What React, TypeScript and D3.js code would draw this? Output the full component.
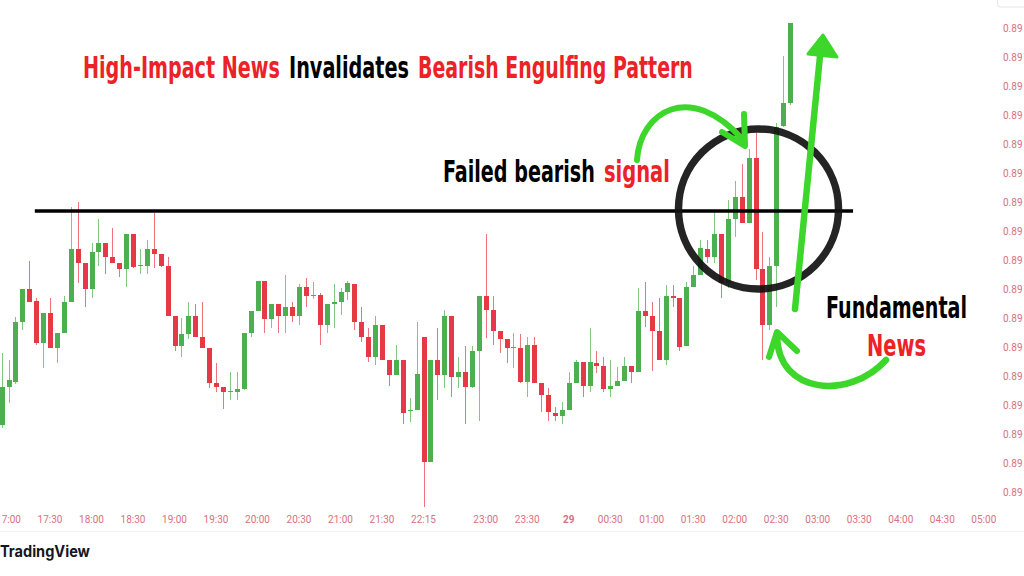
import React, { useLayoutEffect, useRef, useState } from "react";
import * as d3 from "d3";

// 5-minute candles, bar 0 = 16:55 (22:00-22:10 missing: daily rollover gap)
const opens = [
  0.89067,0.89105,0.89110,0.89170,0.89203,0.89191,0.89149,0.89179,0.89144,0.89159,
  0.89190,0.89243,0.89229,0.89203,0.89240,0.89249,0.89235,0.89229,0.89223,0.89258,
  0.89226,0.89226,0.89243,0.89238,0.89226,0.89176,0.89146,0.89158,0.89176,0.89155,
  0.89144,0.89109,0.89105,0.89100,0.89100,0.89103,0.89159,0.89181,0.89211,0.89173,
  0.89188,0.89176,0.89185,0.89176,0.89205,0.89196,0.89197,0.89167,0.89188,0.89190,
  0.89200,0.89208,0.89170,0.89155,0.89135,0.89167,0.89132,0.89117,0.89132,0.89081,
  0.89082,0.89155,0.89030,0.89132,0.89117,0.89176,0.89115,0.89120,0.89105,0.89141,
  0.89196,0.89182,0.89161,0.89153,0.89144,0.89144,0.89110,0.89147,0.89109,0.89097,
  0.89079,0.89076,0.89082,0.89109,0.89130,0.89106,0.89129,0.89126,0.89103,0.89106,
  0.89111,0.89126,0.89120,0.89181,0.89176,0.89161,0.89132,0.89196,0.89194,0.89146,
  0.89205,0.89217,0.89243,0.89235,0.89258,0.89209,0.89273,0.89295,0.89269,0.89334,
  0.89223,0.89167,0.89226,0.89366,0.89389,
];
const highs = [
  0.89139,0.89132,0.89175,0.89203,0.89231,0.89194,0.89179,0.89194,0.89159,0.89196,
  0.89285,0.89290,0.89229,0.89249,0.89273,0.89249,0.89264,0.89229,0.89258,0.89258,
  0.89243,0.89252,0.89279,0.89238,0.89235,0.89176,0.89174,0.89190,0.89188,0.89190,
  0.89144,0.89129,0.89105,0.89120,0.89120,0.89159,0.89181,0.89211,0.89211,0.89188,
  0.89188,0.89217,0.89190,0.89208,0.89214,0.89210,0.89199,0.89188,0.89208,0.89204,
  0.89211,0.89208,0.89185,0.89164,0.89176,0.89167,0.89132,0.89147,0.89132,0.89094,
  0.89170,0.89155,0.89132,0.89164,0.89182,0.89176,0.89135,0.89146,0.89146,0.89196,
  0.89258,0.89196,0.89161,0.89153,0.89159,0.89158,0.89155,0.89155,0.89109,0.89104,
  0.89085,0.89090,0.89120,0.89132,0.89130,0.89164,0.89141,0.89135,0.89132,0.89125,
  0.89135,0.89126,0.89204,0.89210,0.89190,0.89194,0.89207,0.89207,0.89194,0.89210,
  0.89226,0.89252,0.89252,0.89280,0.89258,0.89292,0.89311,0.89328,0.89343,0.89359,
  0.89260,0.89235,0.89369,0.89436,0.89469,
];
const lows = [
  0.89064,0.89089,0.89108,0.89162,0.89190,0.89147,0.89124,0.89144,0.89129,0.89159,
  0.89190,0.89209,0.89185,0.89194,0.89226,0.89218,0.89229,0.89215,0.89205,0.89224,
  0.89218,0.89218,0.89224,0.89225,0.89176,0.89141,0.89135,0.89153,0.89155,0.89144,
  0.89104,0.89100,0.89083,0.89092,0.89092,0.89102,0.89155,0.89181,0.89159,0.89164,
  0.89159,0.89159,0.89170,0.89167,0.89185,0.89193,0.89147,0.89159,0.89164,0.89177,
  0.89192,0.89162,0.89150,0.89130,0.89127,0.89132,0.89106,0.89117,0.89068,0.89070,
  0.89082,0.88985,0.89030,0.89092,0.89104,0.89095,0.89104,0.89068,0.89104,0.89071,
  0.89154,0.89147,0.89139,0.89129,0.89124,0.89109,0.89095,0.89109,0.89080,0.89071,
  0.89071,0.89068,0.89082,0.89109,0.89095,0.89100,0.89119,0.89100,0.89095,0.89106,
  0.89111,0.89109,0.89120,0.89165,0.89121,0.89132,0.89127,0.89185,0.89141,0.89146,
  0.89205,0.89217,0.89229,0.89229,0.89194,0.89204,0.89255,0.89269,0.89269,0.89212,
  0.89132,0.89162,0.89185,0.89365,0.89387,
];
const closes = [
  0.89105,0.89112,0.89170,0.89203,0.89190,0.89149,0.89179,0.89144,0.89159,0.89190,
  0.89243,0.89229,0.89203,0.89240,0.89249,0.89235,0.89229,0.89223,0.89258,0.89225,
  0.89227,0.89243,0.89238,0.89226,0.89176,0.89146,0.89158,0.89176,0.89155,0.89144,
  0.89109,0.89105,0.89100,0.89101,0.89103,0.89159,0.89181,0.89211,0.89173,0.89188,
  0.89176,0.89185,0.89176,0.89205,0.89196,0.89197,0.89167,0.89188,0.89190,0.89200,
  0.89209,0.89170,0.89155,0.89135,0.89167,0.89132,0.89117,0.89132,0.89079,0.89082,
  0.89118,0.89030,0.89132,0.89117,0.89176,0.89115,0.89120,0.89105,0.89141,0.89196,
  0.89182,0.89161,0.89153,0.89144,0.89145,0.89110,0.89147,0.89109,0.89097,0.89080,
  0.89076,0.89082,0.89109,0.89130,0.89106,0.89130,0.89126,0.89103,0.89106,0.89111,
  0.89126,0.89120,0.89181,0.89176,0.89161,0.89132,0.89196,0.89194,0.89145,0.89205,
  0.89217,0.89244,0.89235,0.89258,0.89209,0.89273,0.89295,0.89269,0.89334,0.89223,
  0.89167,0.89226,0.89365,0.89389,0.89469,
];

const timeTickLabels = ["17:00","17:30","18:00","18:30","19:00","19:30","20:00","20:30","21:00","21:30","22:15","23:00","23:30","29","00:30","01:00","01:30","02:00","02:30","03:00","03:30","04:00","04:30","05:00"];
const timeTickBars = [1,7,13,19,25,31,37,43,49,55,61,70,76,82,88,94,100,106,112,118,124,130,136,142];
const priceTicks = [0.89000,0.89029,0.89058,0.89087,0.89116,0.89145,0.89174,0.89203,0.89232,0.89261,0.89290,0.89319,0.89348,0.89377,0.89406,0.89435,0.89464];
const resistanceLevel = 0.89281;
const resistanceBars = [4.8, 123.1];

const W = 1024, H = 576;
const GREEN = "#4caf50";
const RED = "#e53946";
const LIME = "#3dd62b";
const TITLE_RED = "#ec2227";
const AXIS = "#d9717e";
const HEAVY = "'Liberation Sans Narrow','DejaVu Sans Condensed','Liberation Sans',Arial,sans-serif";

type FitProps = { x: number; y: number; width: number; fill: string; size?: number; family?: string; weight?: number; children: string };

function FitText({ x, y, width, fill, size = 30, family = HEAVY, weight = 700, children }: FitProps) {
  const ref = useRef<SVGTextElement>(null);
  const [sx, setSx] = useState(1);
  useLayoutEffect(() => {
    const el = ref.current;
    if (!el) return;
    const len = el.getComputedTextLength();
    if (len > 0) setSx(width / len);
  }, [width, children]);
  return (
    <text ref={ref} x={0} y={0} transform={`translate(${x},${y}) scale(${sx},1)`} fontFamily={family} fontWeight={weight} fontSize={size} fill={fill}>
      {children}
    </text>
  );
}

export default function App() {
  const x = d3.scaleLinear().domain([0, 142]).range([1.6, 983.8]);
  const y = d3.scaleLinear().domain([0.89, 0.89465]).range([492, 27]);
  const fmt = d3.format(".5f");
  const bodyW = 5;

  const candles = opens.map((o, i) => {
    const c = closes[i];
    const up = c >= o;
    const col = up ? GREEN : RED;
    const cx = Math.round(x(i));
    const top = y(Math.max(o, c));
    const bot = y(Math.min(o, c));
    return (
      <g key={i}>
        <line x1={cx + 0.5} x2={cx + 0.5} y1={y(highs[i])} y2={y(lows[i])} stroke={col} strokeOpacity={0.7} strokeWidth={1} />
        <rect x={cx - 2} y={top} width={bodyW} height={Math.max(1, bot - top)} fill={col} />
      </g>
    );
  });

  return (
    <svg width={W} height={H} style={{ position: "absolute", left: 0, top: 0, background: "#fff" }} xmlns="http://www.w3.org/2000/svg">
      <rect x={0} y={0} width={W} height={H} fill="#ffffff" />
      {/* axis separator */}
      <line x1={0} x2={W} y1={531.5} y2={531.5} stroke="#f0f2f6" strokeWidth={1} />
      {/* price axis labels (only the leading digits fit in the visible strip) */}
      {priceTicks.map((p) => (
        <text key={p} x={1003} y={y(p) + 3.5} fontFamily="Roboto, 'Noto Sans', sans-serif" fontSize={10} fill={AXIS}>{fmt(p).slice(0, 4)}</text>
      ))}
      <rect x={997.5} y={-12} width={40} height={19} rx={3} fill="#fff" stroke="#e3e5ea" />
      {/* time axis labels */}
      {timeTickLabels.map((t, k) => (
        <text key={t} x={x(timeTickBars[k])} y={523} textAnchor="middle" fontFamily="Roboto, 'Noto Sans', sans-serif" fontSize={10} fontWeight={t === "29" ? 700 : 400} fill={AXIS}>{t}</text>
      ))}
      <FitText x={0} y={557} width={90} fill="#131722" size={15.5} family="Inter, 'Noto Sans', sans-serif">TradingView</FitText>

      {candles}

      {/* resistance line */}
      <line x1={x(resistanceBars[0])} x2={x(resistanceBars[1])} y1={y(resistanceLevel)} y2={y(resistanceLevel)} stroke="#000" strokeWidth={3.5} />

      {/* circle */}
      <circle cx={758.5} cy={209} r={80} fill="none" stroke="#111" strokeWidth={7.5} strokeOpacity={0.92} />

      {/* straight arrow */}
      <line x1={795} y1={309} x2={820} y2={56} stroke={LIME} strokeWidth={6.5} strokeLinecap="round" />
      <polygon points="823,35 808,54 837,57" fill={LIME} stroke={LIME} strokeWidth={3} strokeLinejoin="round" />

      {/* top curved arrow */}
      <path d="M 637 160 C 640 112, 690 80, 743 140" fill="none" stroke={LIME} strokeWidth={6} strokeLinecap="round" />
      <polyline points="722,132 745,146 744,114" fill="none" stroke={LIME} strokeWidth={6} strokeLinecap="round" strokeLinejoin="round" />

      {/* bottom curved arrow */}
      <path d="M 777 336 C 778 395, 850 400, 886 360" fill="none" stroke={LIME} strokeWidth={6.5} strokeLinecap="round" />
      <polyline points="769,357 777,332 797,351" fill="none" stroke={LIME} strokeWidth={6} strokeLinecap="round" strokeLinejoin="round" />

      {/* title */}
      <FitText x={83} y={78} width={197} fill={TITLE_RED}>High-Impact News</FitText>
      <FitText x={289} y={78} width={120} fill="#000">Invalidates</FitText>
      <FitText x={418} y={78} width={275} fill={TITLE_RED}>Bearish Engulfing Pattern</FitText>

      <FitText x={443} y={182} width={152} fill="#000">Failed bearish</FitText>
      <FitText x={604} y={182} width={66} fill={TITLE_RED}>signal</FitText>

      <FitText x={826} y={318} width={141} fill="#000">Fundamental</FitText>
      <FitText x={867} y={356} width={59} fill={TITLE_RED}>News</FitText>
    </svg>
  );
}
